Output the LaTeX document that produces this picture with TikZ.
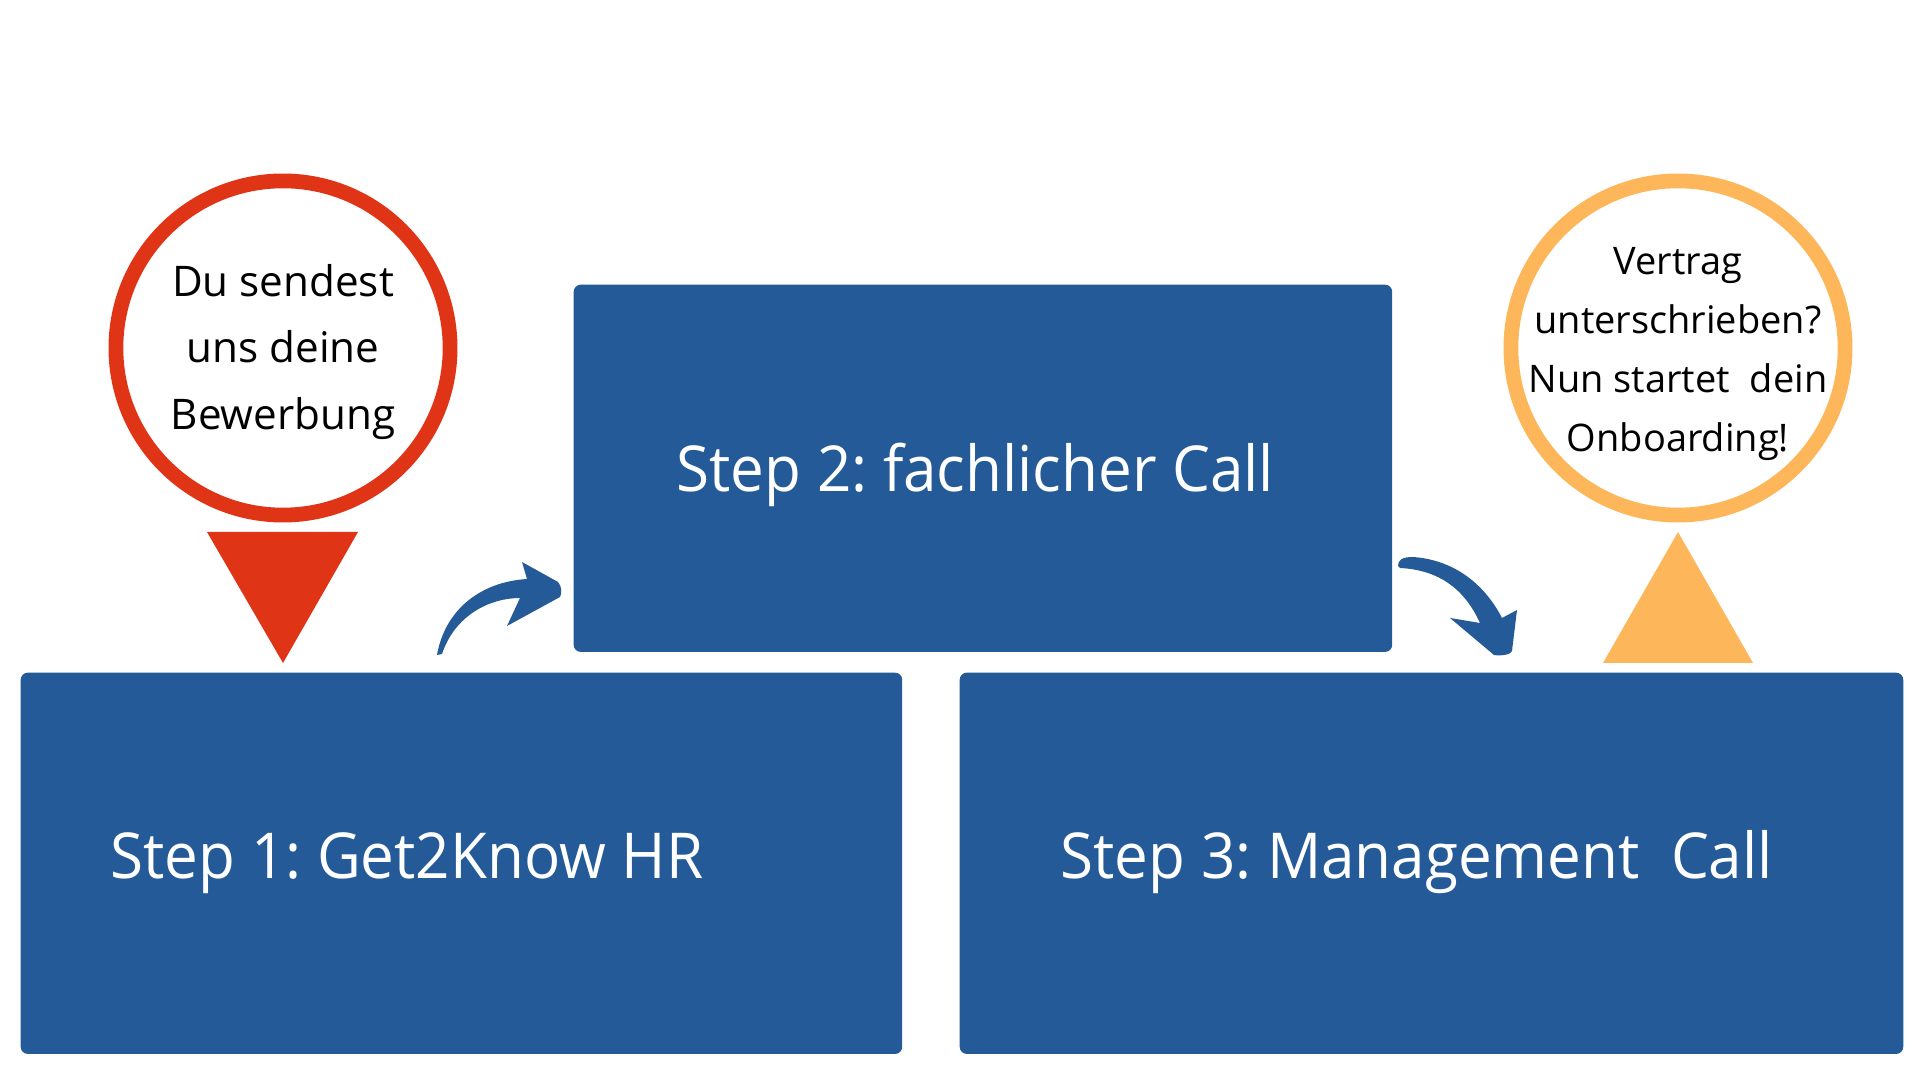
\documentclass[tikz,border=0pt]{standalone}
\usepackage{fontspec}
\setmainfont{Open Sans}
\newfontfamily\stepfont[FakeStretch=0.95]{Open Sans}
\frenchspacing
\usetikzlibrary{positioning}

\definecolor{stepblue}{RGB}{35,90,151}
\definecolor{startred}{RGB}{224,52,22}
\definecolor{endorange}{RGB}{254,182,90}

\begin{document}
\begin{tikzpicture}[
    x=0.01cm, y=-0.01cm,
    stepbox/.style   = {fill=stepblue, rounded corners=2pt, inner sep=0pt, anchor=north west},
    steptext/.style  = {text=white, font=\stepfont\fontsize{18}{22}\selectfont, anchor=base west, inner sep=0pt},
    bubble/.style    = {circle, draw, line width=4.2pt, minimum size=3.34cm, inner sep=0pt},
    bubbletext/.style= {align=center, inner sep=0pt},
    turn/.style      = {fill=stepblue}
  ]
\useasboundingbox (0,0) rectangle (1920,1080);

% =========================================================
% Step boxes
% =========================================================
\node[stepbox, minimum width=8.81cm, minimum height=3.81cm] (hr)   at (20,672)  {};
\node[stepbox, minimum width=8.18cm, minimum height=3.67cm] (fach) at (573,284) {};
\node[stepbox, minimum width=9.43cm, minimum height=3.81cm] (mgmt) at (959,672) {};

\node[steptext] (hrtext)   at (110,879)  {Step 1: Get2Know HR};
\node[steptext] (fachtext) at (676,492)  {Step 2: fachlicher Call};
\node[steptext] (mgmttext) at (1060,879) {Step 3: Management\ \ Call};

% =========================================================
% Start and end bubbles with their markers
% =========================================================
\node[bubble, draw=startred] (start) at (283,348) {};
\node[bubbletext, font=\fontsize{12}{19}\selectfont] (starttext) at ([yshift=-1.1pt]start.center)
  {Du sendest\\uns deine\\Bewerbung};
\fill[startred] (207,532) -- (358,532) -- (283,663) -- cycle;

\node[bubble, draw=endorange] (end) at (1678,348) {};
\node[bubbletext, font=\fontsize{10.8}{16.8}\selectfont] (endtext) at ([yshift=-1.7pt]end.center)
  {Vertrag\\unterschrieben?\\Nun startet\ \ dein\\Onboarding!};
\fill[endorange] (1603,663) -- (1753,663) -- (1678,532) -- cycle;

% =========================================================
% Curved arrows between the steps
% =========================================================
% Step 1 -> Step 2
\fill[turn] (437,655) .. controls (445,610) and (480,582) .. (527,579)
  -- (522,562) -- (558,582) .. controls (562,586) and (562,594) .. (560,597)
  -- (507,626) -- (520,598) .. controls (490,598) and (455,615) .. (442,654) -- cycle;

% Step 2 -> Step 3
\fill[turn] (1398,566) .. controls (1398,560) and (1402,557) .. (1413,557)
  .. controls (1455,560) and (1485,585) .. (1502,618)
  -- (1517,610) -- (1512,651) .. controls (1511,655) and (1500,656) .. (1494,655)
  -- (1450,618) -- (1480,623) .. controls (1465,590) and (1440,570) .. (1400,568) -- cycle;

\end{tikzpicture}
\end{document}
